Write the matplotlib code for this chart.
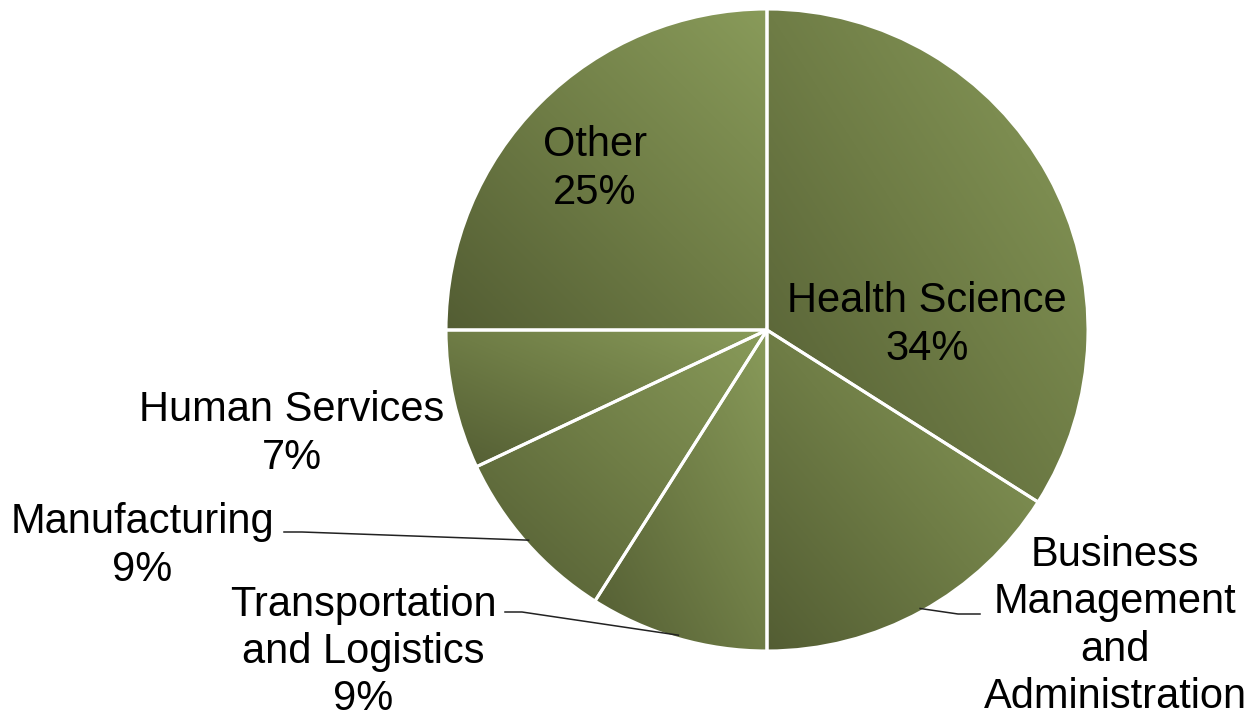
import numpy as np
import matplotlib.pyplot as plt
from matplotlib.colors import LinearSegmentedColormap

# Pie data (clockwise from 12 o'clock)
categories = ['Health Science', 'Business Management and Administration',
              'Transportation and Logistics', 'Manufacturing',
              'Human Services', 'Other']
shares = [34, 16, 9, 9, 7, 25]
label_texts = ['Health Science\n34%',
               'Business\nManagement\nand\nAdministration',
               'Transportation\nand Logistics\n9%',
               'Manufacturing\n9%',
               'Human Services\n7%',
               'Other\n25%']

W, H = 1250, 718
CX, CY, R = 767, 330, 321  # pie centre / radius in pixels


def px(x, y):
    # pixel (from top-left) -> data coords (pie radius = 1)
    return (x - CX) / R, (CY - y) / R


fig = plt.figure(figsize=(W / 100, H / 100), dpi=100)
ax = fig.add_axes([0, 0, 1, 1])
ax.axis('off')

wedges, _ = ax.pie(shares, startangle=90, counterclock=False, radius=1,
                   colors=['none'] * len(shares),
                   wedgeprops=dict(edgecolor='none', linewidth=0))

cmap = LinearSegmentedColormap.from_list('olive', ['#535d33', '#6f7d46', '#899b5a'])
gy, gx = np.mgrid[0:1:200j, 0:1:200j]
grad = (gx + gy) / 2.0

for w in wedges:
    bb = w.get_path().get_extents(w.get_patch_transform())
    im = ax.imshow(grad, cmap=cmap, origin='lower', interpolation='bilinear',
                   extent=[bb.x0, bb.x1, bb.y0, bb.y1], zorder=1)
    im.set_clip_path(w)
    w.set_edgecolor('white')
    w.set_linewidth(2.2)
    w.set_zorder(2)

ax.set_xlim(px(0, 0)[0], px(W, 0)[0])
ax.set_ylim(px(0, H)[1], px(0, 0)[1])
ax.set_aspect('auto')

font = dict(family=['Liberation Sans', 'DejaVu Sans'], fontsize=30,
            ha='center', va='center', linespacing=1.24)

# label centres in pixels
label_pos = [(927, 325), (1115, 626), (363, 652), (142, 546), (292, 434), (595, 169)]
for txt, (x, y) in zip(label_texts, label_pos):
    ax.text(*px(x, y), txt, zorder=5, **font)

# leader lines: text side (start, knee) -> wedge edge at mid angle
leaders = {1: [(980, 614), (958, 614)],
           2: [(505, 612), (522, 612)],
           3: [(284, 532), (302, 532)]}
for i, pts in leaders.items():
    w = wedges[i]
    mid = np.deg2rad((w.theta1 + w.theta2) / 2)
    end = (0.99 * np.cos(mid), 0.99 * np.sin(mid))
    xs = [px(*p)[0] for p in pts] + [end[0]]
    ys = [px(*p)[1] for p in pts] + [end[1]]
    ax.plot(xs, ys, color='#222222', lw=1.1, zorder=4)

fig.savefig('out.png', dpi=100, facecolor='white')
